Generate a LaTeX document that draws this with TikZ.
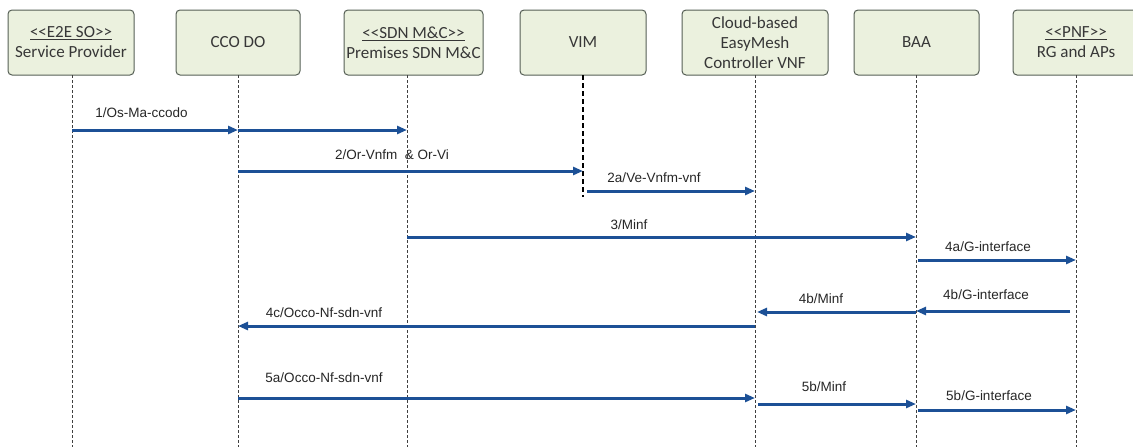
\documentclass[tikz,border=0pt]{standalone}
\usepackage{fontspec}
\setmainfont{Carlito}
\newfontfamily\arialf{Liberation Sans}
\usetikzlibrary{arrows.meta,calc}
\definecolor{boxfill}{RGB}{235,241,222}
\definecolor{boxdraw}{RGB}{85,95,85}
\definecolor{arrowblue}{RGB}{28,80,150}
\definecolor{txt}{RGB}{55,55,55}
\begin{document}
\begin{tikzpicture}[x=1pt,y=-1pt,
  actor/.style={draw=boxdraw, line width=1pt, fill=boxfill, rounded corners=4pt,
    minimum height=65pt, inner sep=0pt, align=center,
    font=\fontsize{17}{20}\selectfont, text=txt},
  life/.style={draw=black!75, line width=0.6pt, dash pattern=on 3pt off 2pt},
  vimlife/.style={draw=black, line width=1.6pt, dash pattern=on 5pt off 3pt},
  msg/.style={draw=arrowblue, line width=3pt, -{Triangle[length=10pt,width=8pt]}},
  lbl/.style={font=\arialf\fontsize{13.5}{15}\selectfont, text=black!85, inner sep=0pt}]
\useasboundingbox (0,0) rectangle (1133,447);
\begin{scope}
\clip (0,0) rectangle (1133,447);
% actors
\node[actor, minimum width=126pt] (sp)  at (71,42.5)    {\underline{{<}{<}E2E SO{>}{>}}\\Service Provider};
\node[actor, minimum width=124pt] (cco) at (238,42.5)   {CCO DO};
\node[actor, minimum width=139pt] (sdn) at (413.5,42.5) {\underline{{<}{<}SDN M\&C{>}{>}}\\Premises SDN M\&C};
\node[actor, minimum width=126pt] (vim) at (583,42.5)   {VIM};
\node[actor, minimum width=146pt] (emc) at (755,42.5)   {Cloud-based\\EasyMesh\\Controller VNF};
\node[actor, minimum width=125pt] (baa) at (916.5,42.5) {BAA};
\node[actor, minimum width=126pt] (pnf) at (1076,42.5)  {\underline{{<}{<}PNF{>}{>}}\\RG and APs};
% lifeline tops
\coordinate (L1) at (72,75);
\coordinate (L2) at (238,75);
\coordinate (L3) at (407,75);
\coordinate (L4) at (583,75);
\coordinate (L5) at (755,75);
\coordinate (L6) at (916,75);
\coordinate (L7) at (1076,75);
\coordinate (bot) at (0,447);
\coordinate (vimend) at (583,197);
\foreach \l in {L1,L2,L3,L5,L6,L7} \draw[life] (\l) -- (\l |- bot);
\draw[vimlife] (L4) -- (vimend);
% message levels
\coordinate (y1) at (0,130);
\coordinate (y2) at (0,171);
\coordinate (y2a) at (0,191);
\coordinate (y3) at (0,237);
\coordinate (y4a) at (0,260);
\coordinate (y4b) at (0,311);
\coordinate (y4bm) at (0,312);
\coordinate (y4c) at (0,326);
\coordinate (y5a) at (0,398);
\coordinate (y5b) at (0,404);
\coordinate (y5g) at (0,410);
% messages
\draw[msg] (L1 |- y1) -- (L2 |- y1);
\draw[msg] (L2 |- y1) -- (L3 |- y1);
\node[lbl] (t1) at (141.5,113) {1/Os-Ma-ccodo};
\draw[msg] (L2 |- y2) -- (L4 |- y2);
\node[lbl] (t2) at (392,155) {2/Or-Vnfm\ \ \& Or-Vi};
\draw[msg] ($(L4 |- y2a)+(4,0)$) -- (L5 |- y2a);
\node[lbl] (t2a) at (654,178) {2a/Ve-Vnfm-vnf};
\draw[msg] (L3 |- y3) -- (L6 |- y3);
\node[lbl] (t3) at (629,225) {3/Minf};
\draw[msg] ($(L6 |- y4a)+(2,0)$) -- (L7 |- y4a);
\node[lbl] (t4a) at (988,247) {4a/G-interface};
\draw[msg] ($(L7 |- y4b)+(-6,0)$) -- (L6 |- y4b);
\node[lbl] (t4b) at (986,295) {4b/G-interface};
\draw[msg] (L6 |- y4bm) -- ($(L5 |- y4bm)+(2,0)$);
\node[lbl] (t4bm) at (821,299) {4b/Minf};
\draw[msg] (L5 |- y4c) -- (L2 |- y4c);
\node[lbl] (t4c) at (324,313) {4c/Occo-Nf-sdn-vnf};
\draw[msg] (L2 |- y5a) -- (L5 |- y5a);
\node[lbl] (t5a) at (324,378) {5a/Occo-Nf-sdn-vnf};
\draw[msg] ($(L5 |- y5b)+(3,0)$) -- (L6 |- y5b);
\node[lbl] (t5b) at (824,387) {5b/Minf};
\draw[msg] ($(L6 |- y5g)+(2,0)$) -- (L7 |- y5g);
\node[lbl] (t5g) at (989,396) {5b/G-interface};
\end{scope}
\end{tikzpicture}
\end{document}
